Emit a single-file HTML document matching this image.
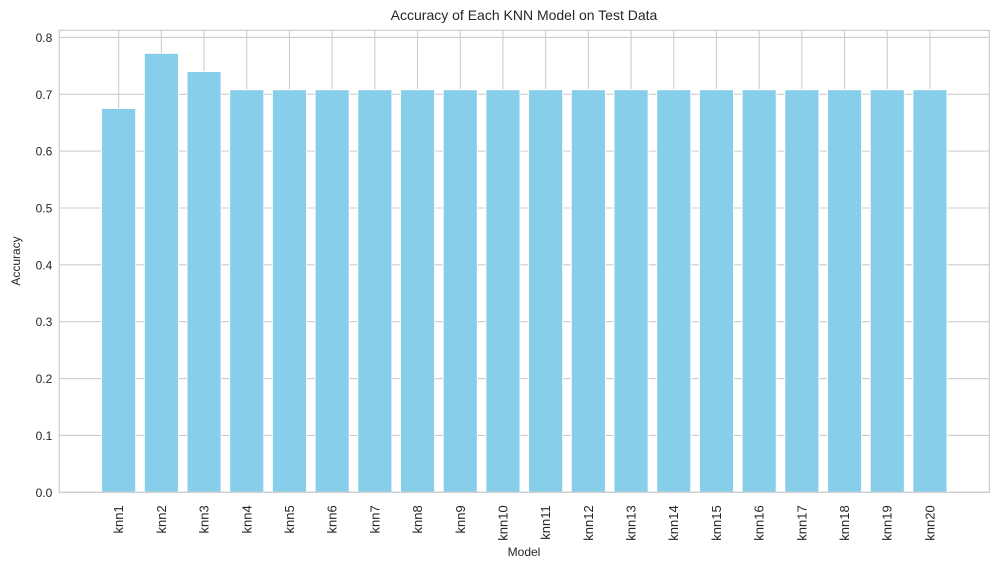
<!DOCTYPE html>
<html><head><meta charset="utf-8"><style>
body{margin:0;background:#fff;}
svg{display:block;font-family:"Liberation Sans",sans-serif;}
</style></head><body>
<svg id="chart" width="998" height="569" xmlns="http://www.w3.org/2000/svg">
<rect width="998" height="569" fill="#fff"/>
<g id="grid"></g>
<g id="bars"></g>
<rect x="59.3" y="30.3" width="930" height="462" fill="none" stroke="#cccccc" stroke-width="1.2"/>
<g id="ticks"></g>
<text x="524" y="20" text-anchor="middle" font-size="14" fill="#262626">Accuracy of Each KNN Model on Test Data</text>
<text x="524" y="556" text-anchor="middle" font-size="12" fill="#262626">Model</text>
<text transform="translate(20,261) rotate(-90)" text-anchor="middle" font-size="12" fill="#262626">Accuracy</text>
</svg>
<script>
const categories = ["knn1","knn2","knn3","knn4","knn5","knn6","knn7","knn8","knn9","knn10","knn11","knn12","knn13","knn14","knn15","knn16","knn17","knn18","knn19","knn20"];
const accuracies = [0.675,0.772,0.740,0.708,0.708,0.708,0.708,0.708,0.708,0.708,0.708,0.708,0.708,0.708,0.708,0.708,0.708,0.708,0.708,0.708];
const yTicks = [0.0,0.1,0.2,0.3,0.4,0.5,0.6,0.7,0.8];

const NS="http://www.w3.org/2000/svg";
const L=59.3,R=989.3,T=30.3,B=492.3;
const xmin=-1.39,xmax=categories.length-1+1.39;
const ymax=0.8125;
const xs=i=>L+(i-xmin)/(xmax-xmin)*(R-L);
const ys=v=>B-v/ymax*(B-T);
const unit=(R-L)/(xmax-xmin);
function mk(tag,attrs,parent){const e=document.createElementNS(NS,tag);for(const k in attrs)e.setAttribute(k,attrs[k]);parent.appendChild(e);return e;}
const grid=document.getElementById('grid'),bars=document.getElementById('bars'),ticks=document.getElementById('ticks');
yTicks.forEach(v=>{
  const g=mk('line',{x1:L,x2:R,y1:ys(v),y2:ys(v),stroke:'#cccccc','stroke-width':1.1},grid);
  
  
  const t=mk('text',{x:L-7,y:ys(v)+4.5,'text-anchor':'end','font-size':12,fill:'#262626'},ticks);
  t.textContent=v.toFixed(1);
  
  
});
categories.forEach((c,i)=>{
  const g=mk('line',{x1:xs(i),x2:xs(i),y1:T,y2:B,stroke:'#cccccc','stroke-width':1.1},grid);
  
  
  const w=0.8*unit;
  const b=mk('rect',{x:xs(i)-w/2,y:ys(accuracies[i]),width:w,height:B-ys(accuracies[i]),fill:'#87ceeb',stroke:'#ffffff','stroke-width':1},bars);
  
  
  const t=mk('text',{transform:`translate(${xs(i)+4.5},${B+13}) rotate(-90)`,'text-anchor':'end','font-size':13,fill:'#262626'},ticks);
  t.textContent=c;
  
  
});
</script>
</body></html>
